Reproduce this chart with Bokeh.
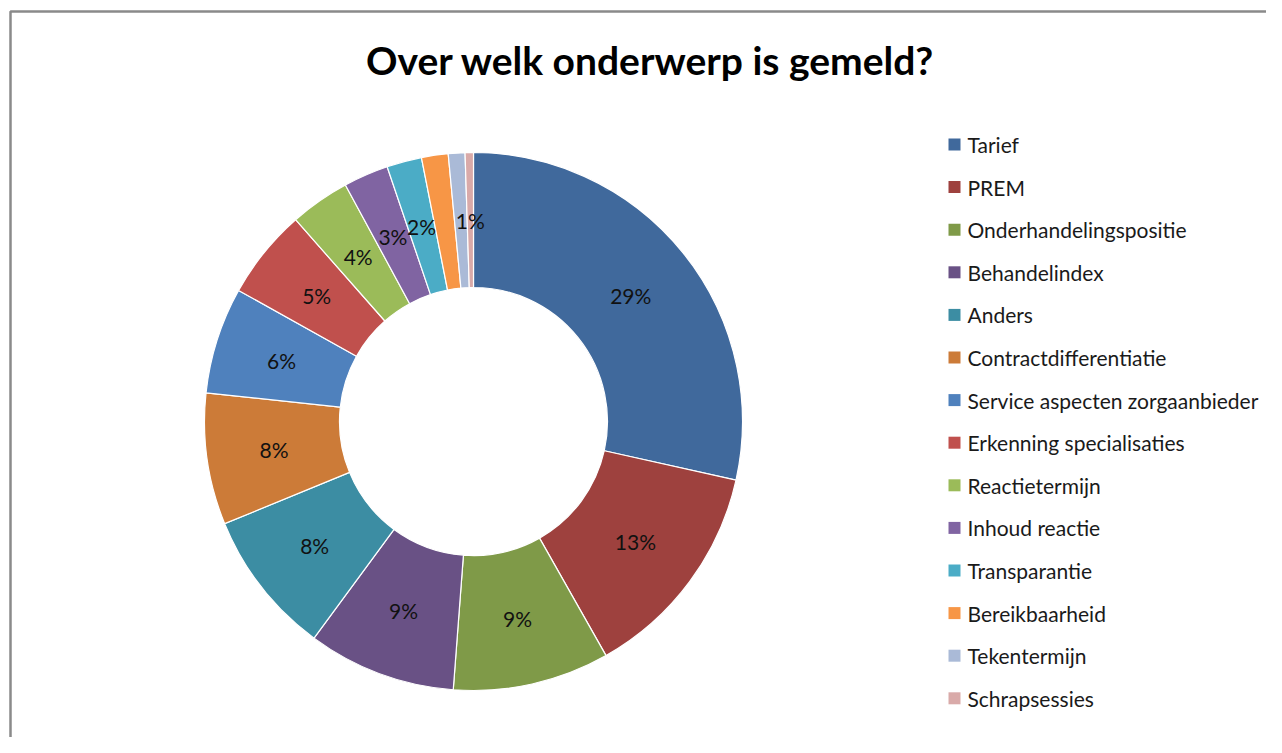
import numpy as np
from bokeh.plotting import figure
from bokeh.models import Range1d, ColumnDataSource
from bokeh.core.properties import value
from bokeh.embed import file_html
from bokeh.resources import INLINE

title = "Over welk onderwerp is gemeld?"
categories = ["Tarief", "PREM", "Onderhandelingspositie", "Behandelindex", "Anders",
              "Contractdifferentiatie", "Service aspecten zorgaanbieder",
              "Erkenning specialisaties", "Reactietermijn", "Inhoud reactie",
              "Transparantie", "Bereikbaarheid", "Tekentermijn", "Schrapsessies"]
values = [28.5, 13.3, 9.4, 8.9, 8.7, 7.9, 6.4, 5.4, 3.6, 2.7, 2.1, 1.6, 1.0, 0.5]
pct_labels = ["29%", "13%", "9%", "9%", "8%", "8%", "6%", "5%", "4%", "3%", "2%", "", "", "1%"]
colors = ["#40699C", "#9E413E", "#7F9A48", "#695185", "#3C8DA3", "#CC7B38", "#4F81BD",
          "#C0504D", "#9BBB59", "#8064A2", "#4BACC6", "#F79646", "#AABAD7", "#D9AAA9"]

W, H = 1266, 737
FONT = "Lato"

p = figure(width=W, height=H, x_range=Range1d(0, W), y_range=Range1d(0, H),
           output_backend="svg", toolbar_location=None, min_border=0,
           x_axis_location=None, y_axis_location=None)
p.grid.visible = False
p.outline_line_color = None
p.background_fill_color = "white"

# chart frame
p.line([10, 10, W + 10], [-10, 726, 726], line_color="#8a8a8a", line_width=2.5)

# donut
cx, cy = 473, 316
r_out, r_in = 269, 134
vals = np.array(values, dtype=float)
frac = vals / vals.sum()
cum = np.concatenate([[0], np.cumsum(frac)])
start = np.pi / 2 - 2 * np.pi * cum[:-1]
end = np.pi / 2 - 2 * np.pi * cum[1:]
mid = (start + end) / 2
r_mid = (r_out + r_in) / 2

src = ColumnDataSource(dict(start=start, end=end, color=colors,
                            lx=cx + r_mid * np.cos(mid), ly=cy + r_mid * np.sin(mid),
                            lab=pct_labels))
p.annular_wedge(x=cx, y=cy, inner_radius=r_in, outer_radius=r_out,
                start_angle="start", end_angle="end", direction="clock",
                fill_color="color", line_color="white", line_width=1.2, source=src)
p.text(x="lx", y="ly", text="lab", source=src, text_align="center",
       text_baseline="middle", text_font=value(FONT), text_font_size="21px",
       text_color="#111111")

# legend
n = len(categories)
row_y = 737 - (144 + 42.6 * np.arange(n))
lsrc = ColumnDataSource(dict(y=row_y, color=colors, name=categories))
p.rect(x=954, y="y", width=12, height=12, fill_color="color", line_color=None, source=lsrc)
p.text(x=967, y="y", text="name", source=lsrc, text_align="left", text_baseline="middle",
       text_font=value(FONT), text_font_size="21px", text_color="#1a1a1a")

# title
p.text(x=[650], y=[678], text=[title], text_align="center", text_baseline="middle",
       text_font=value(FONT), text_font_size="39px", text_font_style="bold",
       text_color="#000000")

open("out.html", "w").write(file_html(p, INLINE))
